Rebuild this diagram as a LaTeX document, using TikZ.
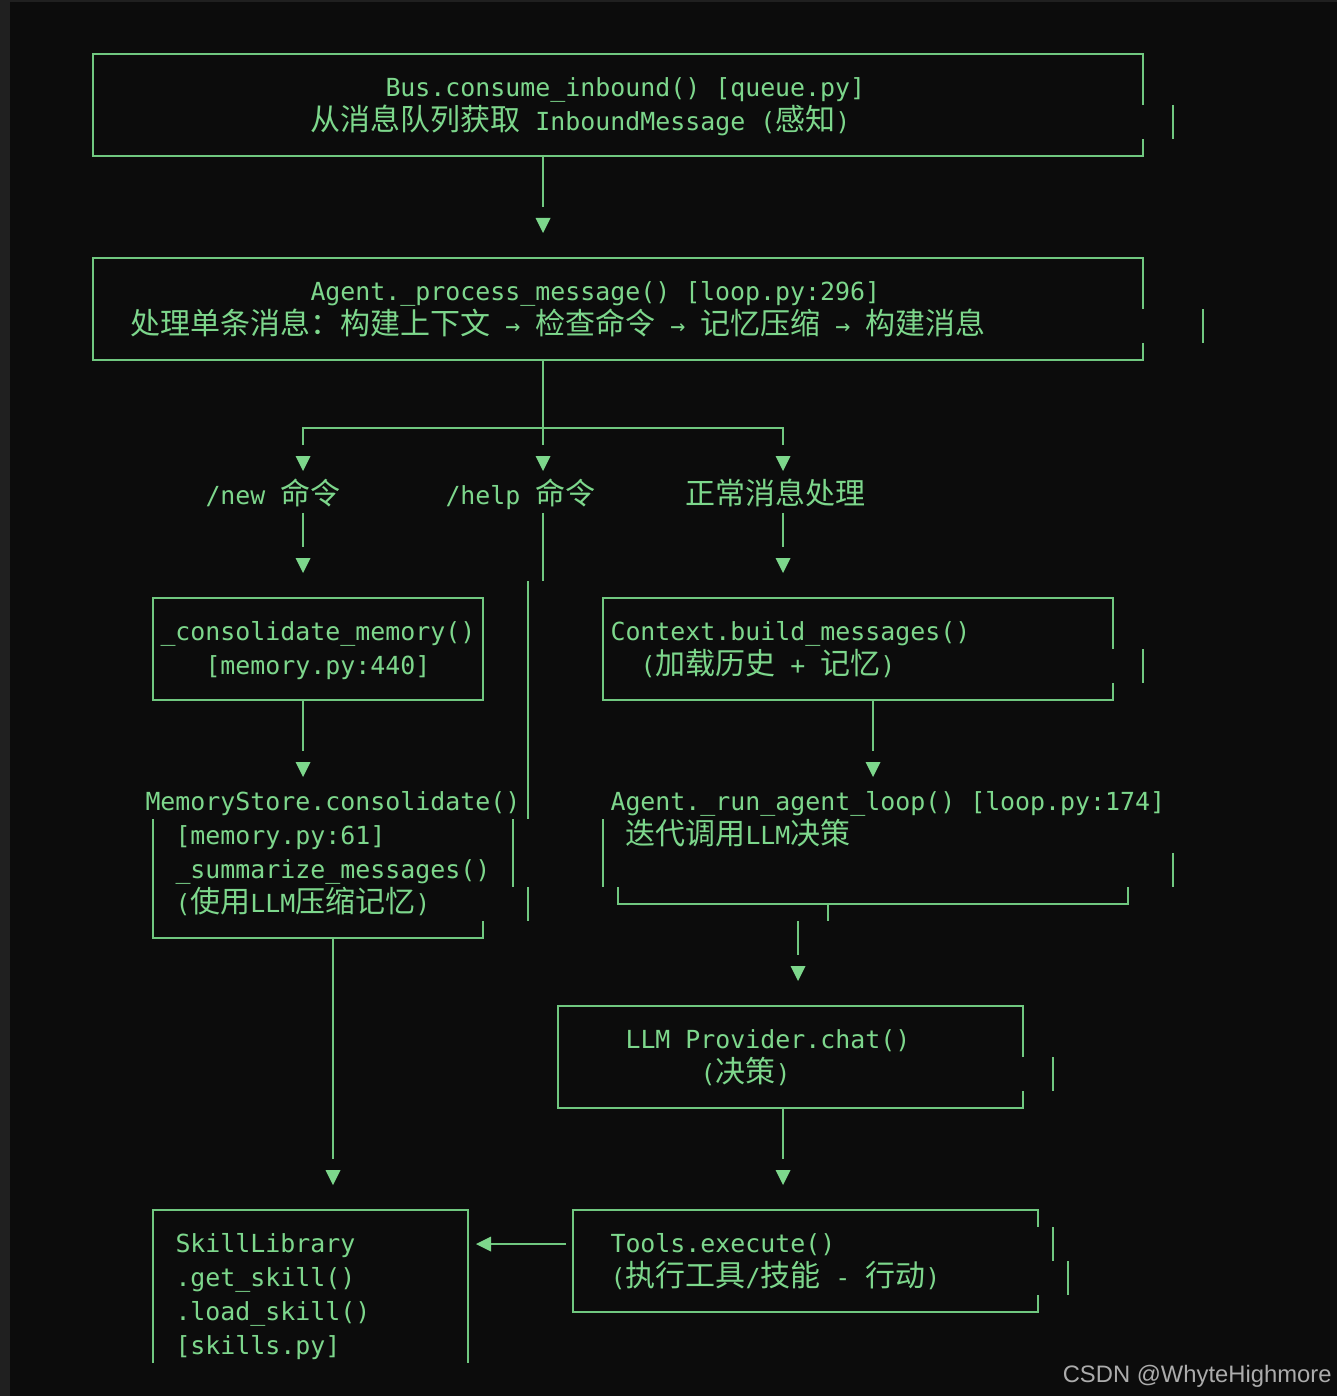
\documentclass[tikz,border=0pt]{standalone}
\usepackage{fontspec}
\newfontfamily\monof{DejaVu Sans Mono}
\newfontfamily\cjkf[Scale=1.2048]{Noto Sans CJK SC}
\newfontfamily\wmf{Liberation Sans}
\definecolor{bgc}{RGB}{12,12,12}
\definecolor{framec}{RGB}{32,32,32}
\definecolor{grn}{RGB}{125,215,140}
\definecolor{grnl}{RGB}{112,200,128}
\definecolor{wmc}{RGB}{172,172,172}
\newcommand\zhs[1]{{\cjkf #1}}
% text at grid column #2, row #3
\newcommand\gtext[4]{\node[txt] (#1) at ({10.5+15*#2},{54+34*#3+8.5}) {#4};}
% down triangle at column #1, row #2
\newcommand\tridown[2]{\fill[grn] ({18+15*#1-7.5},{54+34*#2-6}) -- ({18+15*#1+7.5},{54+34*#2-6}) -- ({18+15*#1},{54+34*#2+9}) -- cycle;}
\tikzset{
  txt/.style={anchor=base west, inner sep=0pt, outer sep=0pt, text=grn,
    font=\monof\fontsize{12.45}{15}\selectfont\frenchspacing},
  ln/.style={draw=grnl, line width=1pt, line join=miter},
}
\begin{document}
\begin{tikzpicture}[x=0.5pt,y=-0.5pt]
\useasboundingbox (0,0) rectangle (1337,1396);
\fill[framec] (0,0) rectangle (1337,1396);
\fill[bgc] (10,2) rectangle (1337,1396);

% ---------- Box 1 : Bus.consume_inbound ----------
\draw[ln] (1143,105) -- (1143,54) -- (93,54) -- (93,156) -- (1143,156) -- (1143,139);
\draw[ln] (1173,105) -- (1173,139);
\gtext{t1}{25}{1}{Bus.consume\_inbound() [queue.py]}
\gtext{t2}{20}{2}{\zhs{从消息队列获取} InboundMessage (\zhs{感知})}
\coordinate (b1s) at (543,156);
\coordinate (b1e) at (543,207);
\draw[ln] (b1s) -- (b1e);
\tridown{35}{5}

% ---------- Box 2 : Agent._process_message ----------
\draw[ln] (1143,309) -- (1143,258) -- (93,258) -- (93,360) -- (1143,360) -- (1143,343);
\draw[ln] (1203,309) -- (1203,343);
\gtext{t3}{20}{7}{Agent.\_process\_message() [loop.py:296]}
\gtext{t4}{8}{8}{\zhs{处理单条消息：构建上下文} → \zhs{检查命令} → \zhs{记忆压缩} → \zhs{构建消息}}
\draw[ln] (543,360) -- (543,445);
\draw[ln] (303,445) -- (303,428) -- (783,428) -- (783,445);
\tridown{19}{12}
\tridown{35}{12}
\tridown{51}{12}

% ---------- branch labels ----------
\gtext{t5}{13}{13}{/new \zhs{命令}}
\gtext{t6}{29}{13}{/help \zhs{命令}}
\gtext{t7}{45}{13}{\zhs{正常消息处理}}
\draw[ln] (303,513) -- (303,547);
\draw[ln] (783,513) -- (783,547);
\draw[ln] (543,513) -- (543,581);
\tridown{19}{15}
\tridown{51}{15}
% help line continuing down
\draw[ln] (528,581) -- (528,819);
\draw[ln] (513,819) -- (513,887);
\draw[ln] (528,887) -- (528,921);

% ---------- _consolidate_memory box ----------
\draw[ln] (153,598) rectangle (483,700);
\gtext{t8}{10}{17}{\_consolidate\_memory()}
\gtext{t9}{13}{18}{[memory.py:440]}
\draw[ln] (303,700) -- (303,751);
\tridown{19}{21}

% ---------- MemoryStore.consolidate box ----------
\gtext{t12}{9}{22}{MemoryStore.consolidate()}
\draw[ln] (153,819) -- (153,938) -- (483,938) -- (483,921);
\gtext{t13}{11}{23}{[memory.py:61]}
\gtext{t14}{11}{24}{\_summarize\_messages()}
\gtext{t15}{11}{25}{(\zhs{使用}LLM\zhs{压缩记忆})}
\draw[ln] (333,938) -- (333,1159);
\tridown{21}{33}

% ---------- Context.build_messages box ----------
\draw[ln] (1113,649) -- (1113,598) -- (603,598) -- (603,700) -- (1113,700) -- (1113,683);
\draw[ln] (1143,649) -- (1143,683);
\gtext{t10}{40}{17}{Context.build\_messages()}
\gtext{t11}{42}{18}{(\zhs{加载历史} + \zhs{记忆})}
\draw[ln] (873,700) -- (873,751);
\tridown{57}{21}

% ---------- Agent._run_agent_loop ----------
\gtext{t16}{40}{22}{Agent.\_run\_agent\_loop() [loop.py:174]}
\draw[ln] (603,819) -- (603,887);
\gtext{t17}{41}{23}{\zhs{迭代调用}LLM\zhs{决策}}
\draw[ln] (1173,853) -- (1173,887);
\draw[ln] (618,887) -- (618,904) -- (1128,904) -- (1128,887);
\draw[ln] (828,904) -- (828,921);
\draw[ln] (798,921) -- (798,955);
\tridown{52}{27}

% ---------- LLM Provider box ----------
\draw[ln] (1023,1057) -- (1023,1006) -- (558,1006) -- (558,1108) -- (1023,1108) -- (1023,1091);
\draw[ln] (1053,1057) -- (1053,1091);
\gtext{t18}{41}{29}{LLM Provider.chat()}
\gtext{t19}{46}{30}{(\zhs{决策})}
\draw[ln] (783,1108) -- (783,1159);
\tridown{51}{33}

% ---------- Tools.execute box ----------
\draw[ln] (1038,1227) -- (1038,1210) -- (573,1210) -- (573,1312) -- (1038,1312) -- (1038,1295);
\draw[ln] (1053,1227) -- (1053,1261);
\draw[ln] (1068,1261) -- (1068,1295);
\gtext{t20}{40}{35}{Tools.execute()}
\gtext{t21}{40}{36}{(\zhs{执行工具}/\zhs{技能} - \zhs{行动})}
\draw[ln] (490.5,1244) -- (565.5,1244);
\fill[grn] (476,1244) -- (491,1236.5) -- (491,1251.5) -- cycle;

% ---------- SkillLibrary box ----------
\draw[ln] (153,1363) -- (153,1210) -- (468,1210) -- (468,1363);
\gtext{t22}{11}{35}{SkillLibrary}
\gtext{t23}{11}{36}{.get\_skill()}
\gtext{t24}{11}{37}{.load\_skill()}
\gtext{t25}{11}{38}{[skills.py]}

% ---------- watermark ----------
\node[anchor=base east, inner sep=0pt, text=wmc, font=\wmf\fontsize{11.9}{14}\selectfont] (wm) at (1332,1382) {CSDN @WhyteHighmore};
\end{tikzpicture}
\end{document}
